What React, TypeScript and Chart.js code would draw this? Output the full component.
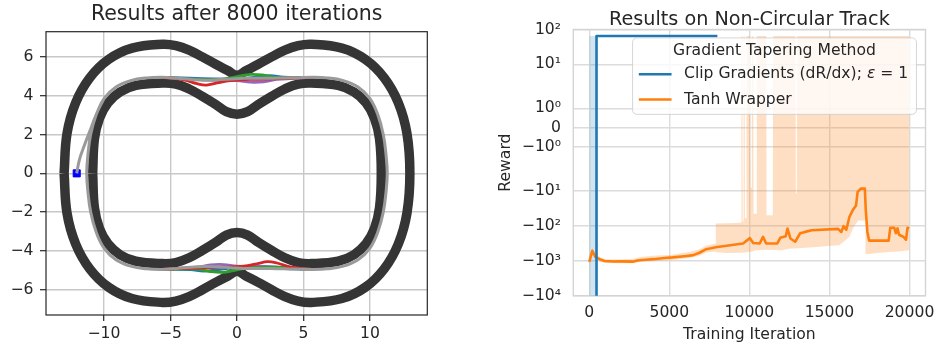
import React, { useEffect, useRef } from 'react';
import { Chart, registerables, LinearScale } from 'chart.js';

// ---------------- Left panel: track and trajectories ----------------
const OUTER_X = [-13.0, -12.78, -12.13, -11.07, -9.65, -7.89, -5.6, -4.6, -3.6, -2.6, -1.6, -0.7, 0, 0.7, 1.6, 2.6, 3.6, 4.6, 5.6, 7.89, 9.65, 11.07, 12.13, 12.78, 13.0, 12.78, 12.13, 11.07, 9.65, 7.89, 5.6, 4.6, 3.6, 2.6, 1.6, 0.7, 0, -0.7, -1.6, -2.6, -3.6, -4.6, -5.6, -7.89, -9.65, -11.07, -12.13, -12.78, -13.0];
const OUTER_Y = [0, 2.05, 3.64, 4.92, 5.87, 6.45, 6.65, 6.58, 6.35, 6.0, 5.62, 5.3, 5.05, 5.3, 5.62, 6.0, 6.35, 6.58, 6.65, 6.45, 5.87, 4.92, 3.64, 2.05, 0, -2.05, -3.64, -4.92, -5.87, -6.45, -6.65, -6.58, -6.35, -6.0, -5.62, -5.3, -5.05, -5.3, -5.62, -6.0, -6.35, -6.58, -6.65, -6.45, -5.87, -4.92, -3.64, -2.05, 0];
const INNER_X = [-10.85, -10.72, -10.34, -9.7, -8.8, -7.6, -5.6, -4.6, -3.6, -2.6, -1.6, -0.8, 0, 0.8, 1.6, 2.6, 3.6, 4.6, 5.6, 7.6, 8.8, 9.7, 10.34, 10.72, 10.85, 10.72, 10.34, 9.7, 8.8, 7.6, 5.6, 4.6, 3.6, 2.6, 1.6, 0.8, 0, -0.8, -1.6, -2.6, -3.6, -4.6, -5.6, -7.6, -8.8, -9.7, -10.34, -10.72, -10.85];
const INNER_Y = [0, 1.77, 2.84, 3.63, 4.19, 4.53, 4.65, 4.6, 4.35, 3.97, 3.55, 3.18, 3.05, 3.18, 3.55, 3.97, 4.35, 4.6, 4.65, 4.53, 4.19, 3.63, 2.84, 1.77, 0, -1.77, -2.84, -3.63, -4.19, -4.53, -4.65, -4.6, -4.35, -3.97, -3.55, -3.18, -3.05, -3.18, -3.55, -3.97, -4.35, -4.6, -4.65, -4.53, -4.19, -3.63, -2.84, -1.77, 0];
const PATH_X = [-12.05, -11.85, -11.5, -11.05, -10.6, -10.0, -9.1, -8.0, -6.8, -5.6, -4.5, -3.5, -2.5, -1.5, -0.5, 0.5, 1.5, 2.5, 3.5, 4.5, 5.6, 6.8, 8.0, 9.1, 10.0, 10.6, 11.0, 11.2, 11.3, 11.2, 11.0, 10.6, 10.0, 9.1, 8.0, 6.8, 5.6, 4.5, 3.5, 2.5, 1.5, 0.5, -0.5, -1.5, -2.5, -3.5, -4.5, -5.6, -6.8, -8.0, -9.1, -10.0, -10.6, -11.0, -11.2, -11.3, -11.2, -11.0, -10.6, -10.0];
const PATH_Y = [0, 0.7, 1.4, 2.2, 3.0, 3.85, 4.45, 4.78, 4.92, 4.95, 4.9, 4.84, 4.8, 4.82, 4.86, 4.9, 4.9, 4.9, 4.92, 4.93, 4.95, 4.92, 4.78, 4.45, 3.85, 3.0, 2.0, 1.0, 0, -1.0, -2.0, -3.0, -3.85, -4.45, -4.78, -4.92, -4.95, -4.93, -4.92, -4.9, -4.9, -4.9, -4.86, -4.82, -4.8, -4.84, -4.9, -4.95, -4.92, -4.78, -4.45, -3.85, -3.0, -2.0, -1.0, 0, 1.0, 2.0, 3.0, 3.85];
const RED_TOP_X = [-5.6, -4.0, -3.0, -2.3, -1.5, -0.5, 1.0, 3.0, 5.6];
const RED_TOP_Y = [4.95, 4.82, 4.62, 4.55, 4.66, 4.78, 4.84, 4.88, 4.95];
const GREEN_TOP_X = [-5.6, -3.0, -1.0, 0.0, 1.0, 2.0, 3.0, 5.6];
const GREEN_TOP_Y = [4.95, 4.84, 4.86, 4.98, 5.1, 5.06, 4.93, 4.95];
const PURPLE_TOP_X = [-5.6, -2.0, 0.0, 1.0, 2.0, 3.0, 5.6];
const PURPLE_TOP_Y = [4.95, 4.8, 4.78, 4.7, 4.72, 4.84, 4.95];
const BLUE_TOP_X = [-5.6, 0.0, 1.5, 2.5, 3.5, 5.6];
const BLUE_TOP_Y = [4.95, 4.86, 4.97, 5.04, 4.96, 4.95];
const RED_BOT_X = [5.6, 4.0, 3.0, 2.3, 1.5, 0.5, -1.0, -3.0, -5.6];
const RED_BOT_Y = [-4.95, -4.82, -4.62, -4.55, -4.66, -4.78, -4.84, -4.88, -4.95];
const GREEN_BOT_X = [5.6, 3.0, 1.0, 0.0, -1.0, -2.0, -3.0, -5.6];
const GREEN_BOT_Y = [-4.95, -4.84, -4.86, -4.98, -5.1, -5.06, -4.93, -4.95];
const PURPLE_BOT_X = [5.6, 2.0, 0.0, -1.0, -2.0, -3.0, -5.6];
const PURPLE_BOT_Y = [-4.95, -4.8, -4.78, -4.7, -4.72, -4.84, -4.95];
const BLUE_BOT_X = [5.6, 0.0, -1.5, -2.5, -3.5, -5.6];
const BLUE_BOT_Y = [-4.95, -4.86, -4.97, -5.04, -4.96, -4.95];
const START_X = [-12.05];
const START_Y = [0];
const LEFT_X_TICKS = [-10, -5, 0, 5, 10];
const LEFT_Y_TICKS = [-6, -4, -2, 0, 2, 4, 6];
const LEFT_TITLE = 'Results after 8000 iterations';

// ---------------- Right panel: reward curves ----------------
const CLIP_X = [0, 440, 450, 8000];
const CLIP_MEAN = [-30000, -30000, 65, 65];
const CLIP_HI = [65, 65, 65, 65];
const CLIP_LO = [-30000, -30000, 65, 65];

const TANH_X = [0, 185, 390, 650, 960, 1500, 2000, 2700, 3000, 3500, 4000, 4700, 5200, 5950, 6500, 6880, 7280, 7600, 7900, 8800, 9600, 10030, 10240, 10640, 10850, 11050, 11740, 11930, 12270, 12380, 12560, 12860, 13170, 13480, 13890, 15540, 15740, 15880, 16050, 16250, 16450, 16660, 16760, 16960, 17210, 17270, 17370, 17475, 18700, 18800, 19045, 19147, 19250, 19350, 19620, 19780, 19880, 19980];
const TANH_MEAN = [-1080, -520, -790, -900, -1020, -1050, -1040, -1060, -980, -940, -900, -830, -800, -740, -690, -590, -470, -440, -410, -360, -320, -225, -310, -320, -207, -320, -320, -220, -198, -120, -230, -285, -163, -149, -134, -122, -150, -102, -130, -55, -36, -26, -10.7, -8.6, -8.6, -36, -149, -265, -265, -113, -113, -163, -118, -180, -207, -250, -113, -118];

const BAND_X = [0, 185, 390, 960, 2000, 2800, 3200, 4000, 5040, 6260, 6880, 7280, 7880, 7900, 8500, 9480, 9500, 9560, 9580, 9620, 9640, 9700, 9720, 9800, 9820, 10050, 10070, 10130, 10150, 10240, 10260, 10440, 10460, 11050, 11070, 11460, 11480, 12000, 12500, 12880, 12900, 12960, 12980, 14000, 14900, 15600, 16000, 16250, 16500, 16800, 17250, 17280, 17500, 18000, 18700, 19300, 19980];
const BAND_HI = [-900, -430, -680, -900, -920, -880, -780, -720, -680, -560, -470, -370, -320, -86, -85, -82, 65, 65, -75, -75, 65, 65, -60, -60, 65, 65, -8, -8, 65, 65, -45, -45, 65, 65, -50, -50, 65, 65, 65, 65, -12, -12, 65, 65, 65, 65, 65, 65, 65, 65, 65, 65, 65, 65, 65, 65, 65];
const BAND_LO = [-1250, -650, -920, -1150, -1180, -1180, -1050, -1020, -960, -830, -720, -580, -540, -560, -600, -590, -590, -590, -590, -585, -580, -580, -580, -575, -570, -550, -550, -540, -540, -530, -520, -500, -500, -480, -480, -490, -490, -500, -450, -440, -440, -440, -440, -410, -380, -360, -260, -205, -110, -70, -70, -650, -640, -600, -560, -540, -500];

const RIGHT_X_TICKS = [0, 5000, 10000, 15000, 20000];
const RIGHT_Y_TICKS = [-10000, -1000, -100, -10, -1, 0, 1, 10, 100];
const RIGHT_Y_LABELS = ['−10⁴', '−10³', '−10²', '−10¹', '−10⁰', '0', '10⁰', '10¹', '10²'];
const RIGHT_TITLE = 'Results on Non-Circular Track';
const X_LABEL = 'Training Iteration';
const Y_LABEL = 'Reward';
const LEGEND_TITLE = 'Gradient Tapering Method';
const SERIES_NAMES = ['Clip Gradients (dR/dx); ε = 1', 'Tanh Wrapper'];
const LEGEND_PARTS = [
  [{ text: 'Clip Gradients (dR/dx); ', italic: false }, { text: 'ε', italic: true }, { text: ' = 1', italic: false }],
  [{ text: 'Tanh Wrapper', italic: false }],
];
const SERIES_COLORS = ['#1f77b4', '#ff7f0e'];

// ---------------- Symlog scale (matplotlib-like) ----------------
const LINTHRESH = 2;
const LINSCALE_ADJ = 1 / (1 - 1 / 10);
function symT(v: number) {
  const a = Math.abs(v);
  if (a <= LINTHRESH) return v * LINSCALE_ADJ;
  return Math.sign(v) * LINTHRESH * (LINSCALE_ADJ + Math.log10(a / LINTHRESH));
}
function symInv(t: number) {
  const a = Math.abs(t);
  const lin = LINTHRESH * LINSCALE_ADJ;
  if (a <= lin) return t / LINSCALE_ADJ;
  return Math.sign(t) * LINTHRESH * Math.pow(10, a / LINTHRESH - LINSCALE_ADJ);
}

class SymlogScale extends LinearScale {
  static id = 'symlog';
  static defaults = LinearScale.defaults;
  buildTicks() {
    return [];
  }
  configure() {
    super.configure();
    const s = this as any;
    s._tmin = symT(this.min);
    s._tmax = symT(this.max);
  }
  getPixelForValue(value: number) {
    if (value === null || value === undefined || Number.isNaN(value)) return NaN;
    const s = this as any;
    return this.getPixelForDecimal((symT(value) - s._tmin) / (s._tmax - s._tmin));
  }
  getValueForPixel(pixel: number) {
    const s = this as any;
    return symInv(s._tmin + this.getDecimalForPixel(pixel) * (s._tmax - s._tmin));
  }
}

Chart.register(...registerables, SymlogScale as any);
Chart.defaults.font.family = '"DejaVu Sans"';
Chart.defaults.color = '#262626';

const TEXT = '#262626';
const FS = 15.6;

function pts(xs: number[], ys: number[]) {
  return xs.map((x, i) => ({ x, y: ys[i] }));
}
const minus = (v: number) => (v < 0 ? '−' + Math.abs(v) : String(v));

function framePlugin(id: string, color: string, width: number, hook: string) {
  return {
    id,
    [hook](chart: any) {
      const { ctx, chartArea: a } = chart;
      ctx.save();
      ctx.strokeStyle = color;
      ctx.lineWidth = width;
      ctx.strokeRect(a.left, a.top, a.right - a.left, a.bottom - a.top);
      ctx.restore();
    },
  };
}

const legendPlugin = {
  id: 'insideLegend',
  afterDatasetsDraw(chart: any) {
    const { ctx, chartArea } = chart;
    const reg = `${FS}px "DejaVu Sans"`;
    const ita = `italic ${FS}px "DejaVu Sans"`;
    ctx.save();
    ctx.font = reg;
    const titleW = ctx.measureText(LEGEND_TITLE).width;
    const widths = LEGEND_PARTS.map((parts) =>
      parts.reduce((w, p) => {
        ctx.font = p.italic ? ita : reg;
        return w + ctx.measureText(p.text).width;
      }, 0)
    );
    const pad = 0.4 * FS, handle = 2.1 * FS, hpad = 0.8 * FS;
    const rowW = handle + hpad + Math.max(...widths);
    const innerW = Math.max(titleW, rowW);
    const boxW = innerW + 2 * pad + 2;
    const boxH = 4.9 * FS;
    const right = chartArea.right - 0.58 * FS;
    const top = chartArea.top + 0.54 * FS;
    const left = right - boxW;
    ctx.beginPath();
    ctx.roundRect(left, top, boxW, boxH, 0.28 * FS);
    ctx.fillStyle = 'rgba(255,255,255,0.8)';
    ctx.fill();
    ctx.strokeStyle = 'rgba(204,204,204,0.8)';
    ctx.lineWidth = 1;
    ctx.stroke();
    ctx.fillStyle = TEXT;
    ctx.textBaseline = 'middle';
    ctx.textAlign = 'center';
    ctx.font = reg;
    ctx.fillText(LEGEND_TITLE, left + boxW / 2, top + 0.82 * FS);
    const rowsY = [top + 2.33 * FS, top + 3.95 * FS];
    LEGEND_PARTS.forEach((parts, i) => {
      const y = rowsY[i];
      ctx.strokeStyle = SERIES_COLORS[i];
      ctx.lineWidth = 2.6;
      ctx.beginPath();
      ctx.moveTo(left + pad, y);
      ctx.lineTo(left + pad + handle, y);
      ctx.stroke();
      let x = left + pad + handle + hpad;
      ctx.textAlign = 'left';
      ctx.fillStyle = TEXT;
      parts.forEach((p) => {
        ctx.font = p.italic ? ita : reg;
        ctx.fillText(p.text, x, y);
        x += ctx.measureText(p.text).width;
      });
    });
    ctx.restore();
  },
};

function lineDs(label: string, data: any[], color: string, width: number, order: number, extra: any = {}) {
  return {
    label,
    data,
    showLine: true,
    borderColor: color,
    backgroundColor: color,
    borderWidth: width,
    pointRadius: 0,
    tension: 0.4,
    borderJoinStyle: 'round',
    order,
    ...extra,
  };
}

function leftConfig(): any {
  return {
    type: 'scatter',
    data: {
      datasets: [
        lineDs('outer', pts(OUTER_X, OUTER_Y), '#353535', 9.5, 10),
        lineDs('inner', pts(INNER_X, INNER_Y), '#353535', 9.5, 10),
        lineDs('run-red-top', pts(RED_TOP_X, RED_TOP_Y), '#d62728', 2.8, 6),
        lineDs('run-green-top', pts(GREEN_TOP_X, GREEN_TOP_Y), '#2ca02c', 2.8, 6),
        lineDs('run-purple-top', pts(PURPLE_TOP_X, PURPLE_TOP_Y), '#9467bd', 2.8, 6),
        lineDs('run-blue-top', pts(BLUE_TOP_X, BLUE_TOP_Y), '#1f77b4', 2.8, 7),
        lineDs('run-red-bot', pts(RED_BOT_X, RED_BOT_Y), '#d62728', 2.8, 6),
        lineDs('run-green-bot', pts(GREEN_BOT_X, GREEN_BOT_Y), '#2ca02c', 2.8, 6),
        lineDs('run-purple-bot', pts(PURPLE_BOT_X, PURPLE_BOT_Y), '#9467bd', 2.8, 6),
        lineDs('run-blue-bot', pts(BLUE_BOT_X, BLUE_BOT_Y), '#1f77b4', 2.8, 7),
        lineDs('run-gray', pts(PATH_X, PATH_Y), '#9a9a9a', 3, 0, {}),
        {
          label: 'start',
          data: pts(START_X, START_Y),
          showLine: false,
          pointStyle: 'rect',
          pointRadius: 5,
          pointBackgroundColor: '#0000ff',
          pointBorderColor: '#0000ff',
          pointBorderWidth: 1,
          order: 1,
        },
      ],
    },
    options: {
      responsive: false,
      animation: false,
      events: [],
      layout: { padding: { left: 0, right: 22.7, top: 0, bottom: 0 } },
      plugins: {
        legend: { display: false },
        tooltip: { enabled: false },
        title: {
          display: true,
          text: LEFT_TITLE,
          fullSize: false,
          color: TEXT,
          font: { size: 20.5, weight: 'normal', lineHeight: 1 },
          padding: { top: 4.3, bottom: 6.9 },
        },
      },
      scales: {
        x: {
          type: 'linear',
          min: -14.36,
          max: 14.31,
          afterBuildTicks: (s: any) => { s.ticks = LEFT_X_TICKS.map((v) => ({ value: v })); },
          afterFit: (s: any) => { s.height = 33; },
          grid: { color: '#c8c8c8', lineWidth: 1.4, drawTicks: true, tickLength: 6, tickColor: TEXT, tickWidth: 1.2 },
          border: { display: false },
          ticks: { autoSkip: false, maxRotation: 0, padding: 3.6, color: TEXT, font: { size: FS }, callback: (v: number) => minus(v) },
        },
        y: {
          type: 'linear',
          min: -7.3,
          max: 7.3,
          afterBuildTicks: (s: any) => { s.ticks = LEFT_Y_TICKS.map((v) => ({ value: v })); },
          afterFit: (s: any) => { s.width = 46; },
          grid: { color: '#c8c8c8', lineWidth: 1.4, drawTicks: true, tickLength: 6, tickColor: TEXT, tickWidth: 1.2 },
          border: { display: false },
          ticks: { autoSkip: false, padding: 6.5, color: TEXT, font: { size: FS }, callback: (v: number) => minus(v) },
        },
      },
    },
    plugins: [framePlugin('leftFrame', TEXT, 1.2, 'afterDraw')],
  };
}

function rightConfig(): any {
  const bandFill = 'rgba(255,127,14,0.25)';
  const blueFill = 'rgba(31,119,180,0.2)';
  return {
    type: 'scatter',
    data: {
      datasets: [
        lineDs('tanh-hi', pts(BAND_X, BAND_HI), 'transparent', 0, 5, { tension: 0, fill: '+1', backgroundColor: bandFill }),
        lineDs('tanh-lo', pts(BAND_X, BAND_LO), 'transparent', 0, 5, { tension: 0 }),
        lineDs('clip-hi', pts(CLIP_X, CLIP_HI), 'transparent', 0, 4, { tension: 0, fill: '+1', backgroundColor: blueFill }),
        lineDs('clip-lo', pts(CLIP_X, CLIP_LO), 'transparent', 0, 4, { tension: 0 }),
        lineDs(SERIES_NAMES[1], pts(TANH_X, TANH_MEAN), SERIES_COLORS[1], 2.6, 1, { tension: 0 }),
        lineDs(SERIES_NAMES[0], pts(CLIP_X, CLIP_MEAN), SERIES_COLORS[0], 2.6, 0, { tension: 0 }),
      ],
    },
    options: {
      responsive: false,
      animation: false,
      events: [],
      layout: { padding: { left: 0, right: 11.3, top: 0, bottom: 0 } },
      plugins: {
        legend: { display: false },
        tooltip: { enabled: false },
        title: {
          display: true,
          text: RIGHT_TITLE,
          fullSize: false,
          color: TEXT,
          font: { size: 19.2, weight: 'normal', lineHeight: 1 },
          padding: { top: 10.3, bottom: 0 },
        },
      },
      scales: {
        x: {
          type: 'linear',
          min: -1000,
          max: 21000,
          afterBuildTicks: (s: any) => { s.ticks = RIGHT_X_TICKS.map((v) => ({ value: v })); },
          afterFit: (s: any) => { s.height = 52.3; },
          grid: { color: '#dcdcdc', lineWidth: 1.4, drawTicks: false },
          border: { display: false },
          ticks: { autoSkip: false, maxRotation: 0, padding: 7.9, color: TEXT, font: { size: FS }, callback: (v: number) => String(v) },
          title: { display: true, text: X_LABEL, color: TEXT, font: { size: FS }, padding: { top: 0, bottom: 3.6 } },
        },
        y: {
          type: 'symlog',
          min: -10000,
          max: 100,
          afterBuildTicks: (s: any) => { s.ticks = RIGHT_Y_TICKS.map((v) => ({ value: v })); },
          afterFit: (s: any) => { s.width = 103.3; },
          grid: { color: '#dcdcdc', lineWidth: 1.4, drawTicks: false },
          border: { display: false },
          ticks: { autoSkip: false, padding: 12.3, color: TEXT, font: { size: FS }, callback: (_v: number, i: number) => RIGHT_Y_LABELS[i] },
          title: { display: true, text: Y_LABEL, color: TEXT, font: { size: FS }, padding: { top: 26.6, bottom: 0 } },
        },
      },
    },
    plugins: [framePlugin('rightFrame', '#d4d4d4', 1.4, 'beforeDatasetsDraw'), legendPlugin],
  };
}

export default function App() {
  const leftRef = useRef<HTMLCanvasElement>(null);
  const rightRef = useRef<HTMLCanvasElement>(null);
  useEffect(() => {
    const l = new Chart(leftRef.current as HTMLCanvasElement, leftConfig());
    const r = new Chart(rightRef.current as HTMLCanvasElement, rightConfig());
    return () => {
      l.destroy();
      r.destroy();
    };
  }, []);
  return (
    <div style={{ position: 'absolute', left: 0, top: 0, width: 943, height: 348, background: '#fff' }}>
      <canvas ref={leftRef} width={450} height={348} style={{ position: 'absolute', left: 0, top: 0 }} />
      <canvas ref={rightRef} width={473} height={348} style={{ position: 'absolute', left: 470, top: 0 }} />
    </div>
  );
}
